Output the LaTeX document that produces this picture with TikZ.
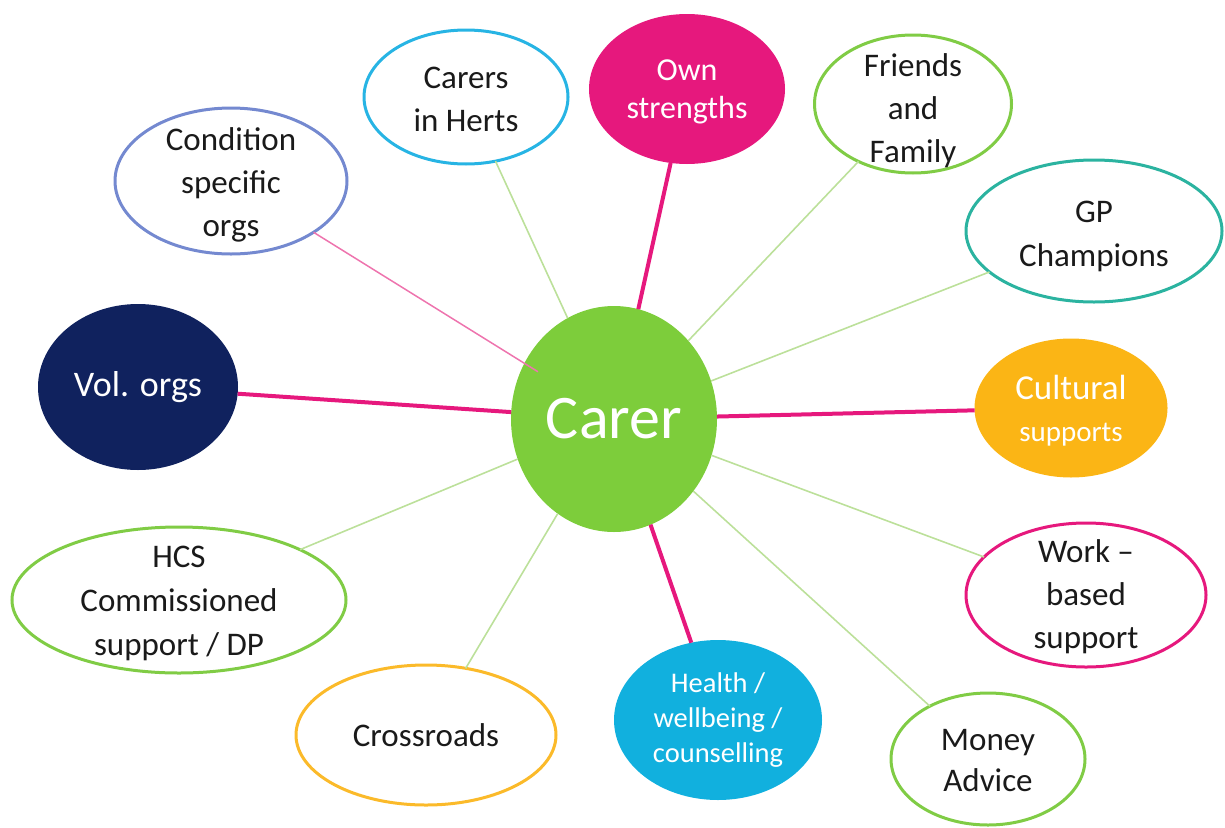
\documentclass[tikz,border=0pt]{standalone}
\usepackage{fontspec}
\setmainfont{Carlito}
\usetikzlibrary{shapes.geometric}

\definecolor{carergreen}{HTML}{7DCD3B}
\definecolor{hotpink}{HTML}{E6187D}
\definecolor{softpink}{HTML}{EE74AE}
\definecolor{navy}{HTML}{10225E}
\definecolor{amber}{HTML}{FBB515}
\definecolor{sky}{HTML}{11B0DE}
\definecolor{cyanring}{HTML}{27B4E4}
\definecolor{periwinkle}{HTML}{7489D0}
\definecolor{leafring}{HTML}{80CC45}
\definecolor{tealring}{HTML}{2BB3A0}
\definecolor{goldring}{HTML}{FBBA2A}
\definecolor{linkgreen}{HTML}{BCE09A}
\definecolor{inkdark}{HTML}{1A1A1A}

\tikzset{
  bubble/.style={ellipse, inner sep=0pt, outer sep=0pt, line width=3pt},
  ring/.style={bubble, draw=#1, fill=white},
  disc/.style={bubble, fill=#1},
  darktext/.style={align=center, text=inkdark, font=\fontsize{33}{43}\selectfont},
  lighttext/.style={align=center, text=white},
  thinlink/.style={draw=linkgreen, line width=1.6pt},
  boldlink/.style={draw=hotpink, line width=4pt},
}

\begin{document}
\begin{tikzpicture}[x=1pt,y=-1pt]
\useasboundingbox (0,0) rectangle (1225,827);

% hub
\node[disc=carergreen, minimum width=206pt, minimum height=226pt] (carer) at (614,419) {};
\node[lighttext, font=\fontsize{62}{70}\selectfont] (carer-t) at (carer) {Carer};

% outlined bubbles
\node[ring=periwinkle, minimum width=232pt, minimum height=146pt] (cond) at (231,181) {};
\node[darktext] (cond-t) at ([yshift=-4pt]cond) {Condition\\specific\\orgs};

\node[ring=cyanring, minimum width=204pt, minimum height=134pt] (herts) at (466,97) {};
\node[darktext] (herts-t) at ([yshift=-2pt]herts) {Carers\\in Herts};

\node[ring=leafring, minimum width=197pt, minimum height=138pt] (friends) at (913,104) {};
\node[darktext] (friends-t) at ([yshift=-7pt]friends) {Friends\\and\\Family};

\node[ring=tealring, minimum width=256pt, minimum height=142pt] (gp) at (1094,231) {};
\node[darktext, font=\fontsize{33}{44}\selectfont] (gp-t) at ([yshift=-5pt]gp) {GP\\Champions};

\node[ring=hotpink, minimum width=240pt, minimum height=144pt] (work) at (1086,595) {};
\node[darktext] (work-t) at ([yshift=-2pt]work) {Work --\\based\\support};

\node[ring=leafring, minimum width=194pt, minimum height=132pt] (money) at (988,759) {};
\node[darktext, font=\fontsize{33}{41}\selectfont] (money-t) at ([yshift=-2pt]money) {Money\\Advice};

\node[ring=goldring, minimum width=260pt, minimum height=140pt] (cross) at (426,735) {};
\node[darktext] (cross-t) at (cross) {Crossroads};

\node[ring=leafring, minimum width=334pt, minimum height=146pt] (hcs) at (179,600) {};
\node[darktext, font=\fontsize{33}{44}\selectfont] (hcs-t) at ([yshift=-3pt]hcs) {HCS\\Commissioned\\support / DP};

% filled bubbles
\node[disc=hotpink, minimum width=196pt, minimum height=150pt] (own) at (687,89) {};
\node[lighttext, font=\fontsize{32}{38}\selectfont] (own-t) at ([yshift=-3pt]own) {Own\\strengths};

\node[disc=amber, minimum width=193pt, minimum height=139pt] (cult) at (1071,408) {};
\node[lighttext, font=\fontsize{35}{42}\selectfont] (cult-t) at ([yshift=-3pt]cult) {Cultural\\{\fontsize{29}{42}\selectfont supports}};

\node[disc=sky, minimum width=208pt, minimum height=160pt] (health) at (718,720) {};
\node[lighttext, font=\fontsize{28.5}{35}\selectfont] (health-t) at (health) {Health /\\wellbeing /\\counselling};

\node[disc=navy, minimum width=200pt, minimum height=166pt] (vol) at (138,387) {};
\node[lighttext, font=\fontsize{36}{42}\selectfont] (vol-t) at (vol) {Vol. orgs};

% spokes
\draw[draw=softpink, line width=1.5pt, shorten >=-16pt] (cond) -- (carer);
\draw[thinlink] (herts) -- (carer);
\draw[boldlink] (own) -- (carer);
\draw[thinlink] (friends) -- (carer);
\draw[thinlink] (gp) -- (carer);
\draw[boldlink] (cult) -- (carer);
\draw[thinlink] (work) -- (carer);
\draw[thinlink] (money) -- (carer);
\draw[boldlink] (health) -- (carer);
\draw[thinlink] (cross) -- (carer);
\draw[thinlink] (hcs) -- (carer);
\draw[boldlink] (vol) -- (carer);
\end{tikzpicture}
\end{document}
